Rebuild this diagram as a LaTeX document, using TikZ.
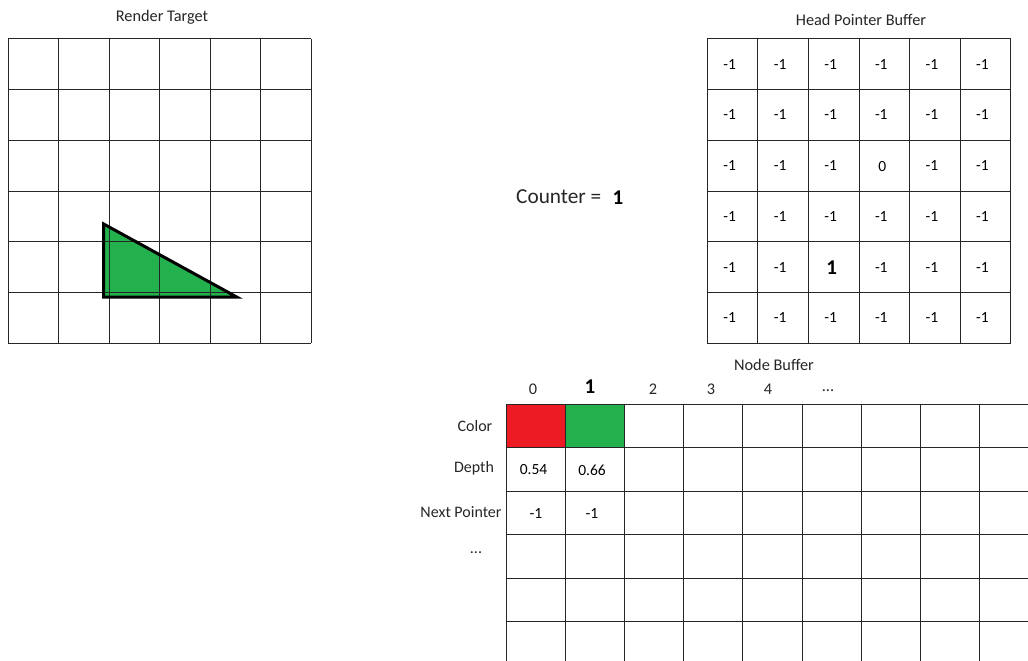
\documentclass[tikz,border=0pt]{standalone}
\usepackage{fontspec}
\setmainfont{Carlito}
\definecolor{paintred}{HTML}{ED1C24}
\definecolor{paintgreen}{HTML}{22B14C}
\definecolor{txt}{HTML}{262626}
\begin{document}
\begin{tikzpicture}[x=1pt,y=-1pt,
  gridline/.style={line width=1pt, draw=black!85},
  title/.style={font=\fontsize{16.3}{19}\selectfont, text=txt, inner sep=0pt},
  val/.style={font=\fontsize{15.5}{18}\selectfont, text=black, inner sep=0pt},
  bigval/.style={font=\bfseries\fontsize{21}{24}\selectfont, text=black, inner sep=0pt},
  rowlbl/.style={font=\fontsize{16}{19}\selectfont, text=txt, inner sep=0pt},
  counter/.style={font=\fontsize{21.3}{25}\selectfont, text=txt, inner sep=0pt}]
\useasboundingbox (0,0) rectangle (1028,661);

% ---------- Render Target ----------
\node[title] (rttitle) at (162,17) {Render Target};
\fill[paintgreen] (103.7,224) -- (103.7,297) -- (236.7,297) -- cycle;
\foreach \i in {0,...,6} \draw[gridline] ({8+\i*50.5},39) -- ({8+\i*50.5},343);
\foreach \j in {0,...,6} \draw[gridline] (8,{39+\j*50.67}) -- (311,{39+\j*50.67});
\draw[line width=3pt, line join=miter] (103.7,224) -- (103.7,297) -- (236.7,297) -- cycle;

% ---------- Counter ----------
\node[counter, anchor=west] (ctr) at (516,197) {Counter =};
\node[bigval] (ctrval) at (618,198) {1};

% ---------- Head Pointer Buffer ----------
\node[title] (hptitle) at (861,20) {Head Pointer Buffer};
\foreach \i in {0,...,6} \draw[gridline] ({707.3+\i*50.57},39) -- ({707.3+\i*50.57},343);
\foreach \j in {0,...,6} \draw[gridline] (707.3,{39+\j*50.67}) -- (1010.7,{39+\j*50.67});
\foreach \r in {0,...,5}{
  \foreach \c in {0,...,5}{
    \pgfmathtruncatemacro{\code}{\r*10+\c}
    \ifnum\code=23
      \node[val] (hp\r\c) at ({707.3+(\c+0.5)*50.57-2},{39+(\r+0.5)*50.67+1}) {0};
    \else\ifnum\code=42
      \node[bigval] (hp\r\c) at ({707.3+(\c+0.5)*50.57-2},{39+(\r+0.5)*50.67+1}) {1};
    \else
      \node[val] (hp\r\c) at ({707.3+(\c+0.5)*50.57-3},{39+(\r+0.5)*50.67}) {-1};
    \fi\fi
  }
}

% ---------- Node Buffer ----------
\node[title] (nbtitle) at (774,365) {Node Buffer};
\fill[paintred] (506.7,404) rectangle (565.5,447.5);
\fill[paintgreen] (565.5,404) rectangle (624.6,447.5);
\foreach \i in {0,...,8} \draw[gridline] ({506.7+\i*59.07},404) -- ({506.7+\i*59.07},661);
\foreach \j in {0,...,5} \draw[gridline] (506.7,{404+\j*43.5}) -- (1028,{404+\j*43.5});

\node[title] (h0) at (533,389) {0};
\node[bigval] (h1) at (590,387) {1};
\node[title] (h2) at (653,389) {2};
\node[title] (h3) at (711,389) {3};
\node[title] (h4) at (768,389) {4};
\node[title] (h5) at (828,391) {...};

\node[rowlbl] (lcolor) at (475,426) {Color};
\node[rowlbl] (ldepth) at (474,468) {Depth};
\node[rowlbl] (lnext) at (461,512) {Next Pointer};
\node[rowlbl] (ldots) at (476,553) {...};

\node[val] (d0) at (533.5,470) {0.54};
\node[val] (d1) at (592,470) {0.66};
\node[val] (n0) at (536,514) {-1};
\node[val] (n1) at (592,514) {-1};
\end{tikzpicture}
\end{document}
